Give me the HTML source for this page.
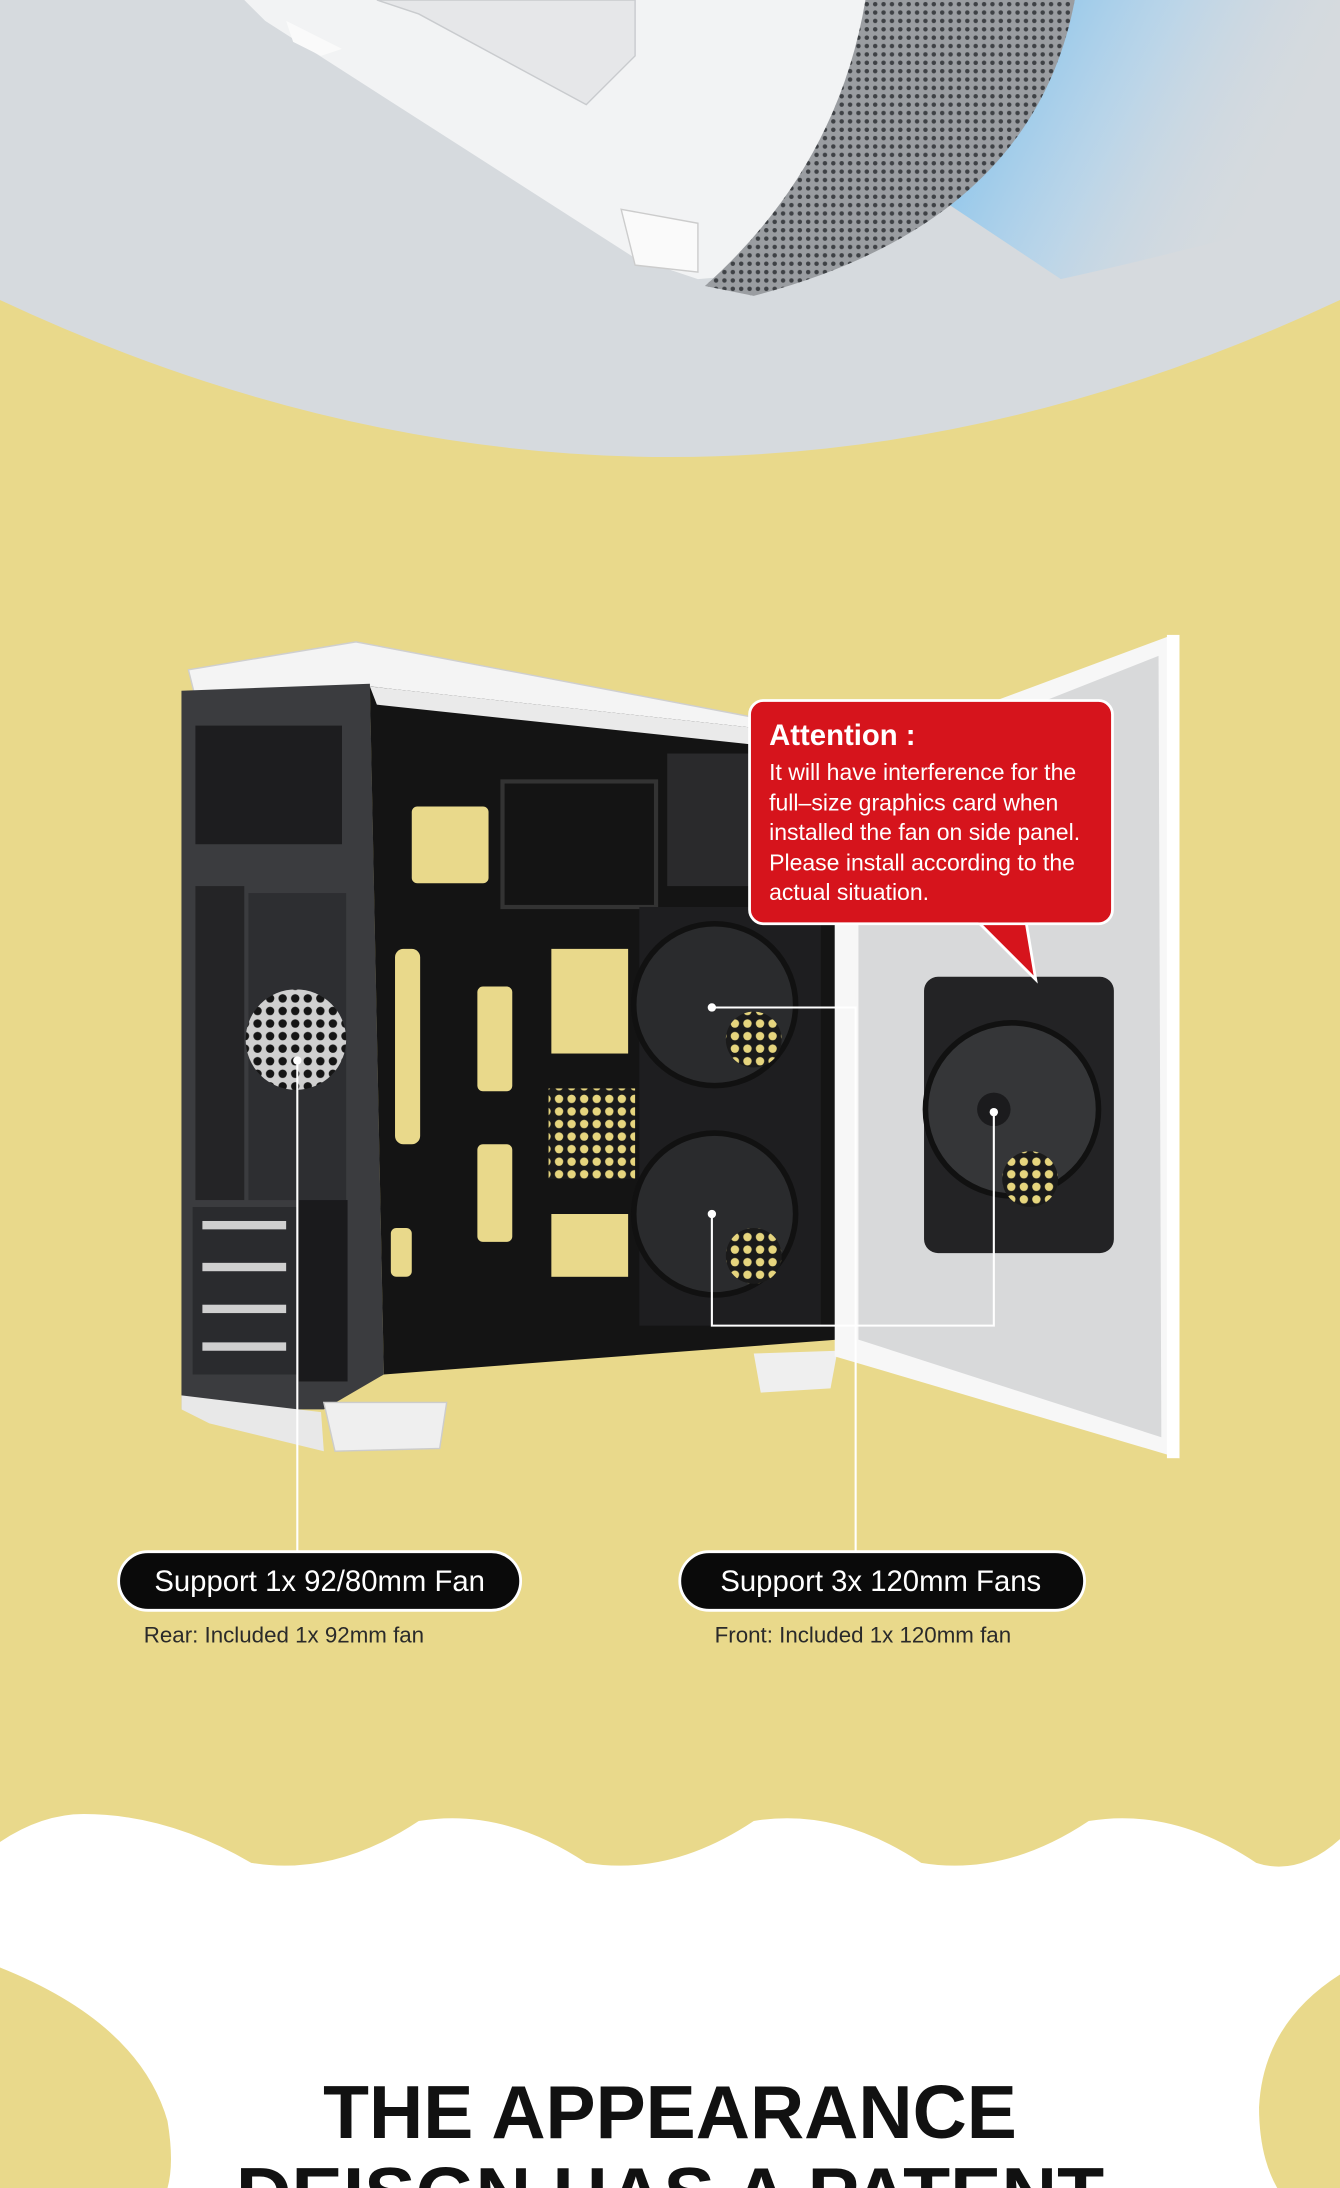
<!DOCTYPE html>
<html><head><meta charset="utf-8"><style>
html,body{margin:0;padding:0;background:#fff;}
svg{display:block;width:1340px;height:2188px;}
text{font-family:"Liberation Sans",sans-serif;}
</style></head><body>
<svg viewBox="0 0 960 1568" preserveAspectRatio="none" xmlns="http://www.w3.org/2000/svg">
<defs>
<linearGradient id="blue" x1="0" y1="0" x2="1" y2="0.3">
<stop offset="0" stop-color="#3aa8f0" stop-opacity="0.9"/><stop offset="0.6" stop-color="#9fd0f3" stop-opacity="0.5"/><stop offset="1" stop-color="#d6dade" stop-opacity="0"/></linearGradient>
<pattern id="mesh" width="6" height="6" patternUnits="userSpaceOnUse"><rect width="6" height="6" fill="#9a9da1"/><circle cx="3" cy="3" r="1.6" fill="#3e4145"/></pattern>
<pattern id="hex" width="9" height="9" patternUnits="userSpaceOnUse"><rect width="9" height="9" fill="#1a1a1a"/><circle cx="4.5" cy="4.5" r="3" fill="#e6d57e"/></pattern>
<pattern id="hexd" width="9" height="9" patternUnits="userSpaceOnUse"><rect width="9" height="9" fill="#cfcfcf"/><circle cx="4.5" cy="4.5" r="3" fill="#151515"/></pattern>
</defs>
<rect width="960" height="1568" fill="#e9d98b"/>
<path d="M0,0 H960 V215 Q480,440 0,215 Z" fill="#d6dade"/>
<!-- top case -->
<path d="M620,0 L960,0 L960,150 Q850,180 760,200 L640,120 Z" fill="url(#blue)"/>
<path d="M175,0 L630,0 L560,195 L500,200 L455,185 L190,15 Z" fill="#f2f3f4"/>
<path d="M270,0 L455,0 L455,40 L420,75 L300,10 Z" fill="#e6e7e9" stroke="#c9cbce"/>
<path d="M620,0 L770,0 Q740,160 540,212 L505,205 Q600,120 620,0 Z" fill="url(#mesh)"/>
<path d="M445,150 L500,160 L500,195 L455,190 Z" fill="#fafafa" stroke="#ccc"/>
<path d="M205,15 L245,35 L230,40 L210,30 Z" fill="#fafafa"/>
<!-- main case left frame -->
<path d="M135,480 L255,460 L545,515 L545,532 L265,492 L140,500 Z" fill="#f4f4f4" stroke="#cfcfcf"/>
<path d="M130,495 L265,490 L275,985 L232,1010 L130,1010 Z" fill="#3b3c3f"/>
<rect x="140" y="520" width="105" height="85" fill="#1d1d1f"/>
<rect x="140" y="635" width="35" height="225" fill="#242426"/>
<rect x="178" y="640" width="70" height="220" fill="#2d2e31"/>
<circle cx="212" cy="745" r="36" fill="url(#hexd)"/>
<rect x="138" y="865" width="75" height="120" fill="#2a2b2e"/>
<g fill="#cfcfcf"><rect x="145" y="875" width="60" height="6"/><rect x="145" y="905" width="60" height="6"/><rect x="145" y="935" width="60" height="6"/><rect x="145" y="962" width="60" height="6"/></g>
<rect x="214" y="860" width="35" height="130" fill="#1a1a1c"/>
<path d="M130,1000 L230,1012 L232,1040 L150,1020 L130,1010 Z" fill="#e8e8e8"/>
<path d="M232,1005 L320,1005 L315,1038 L240,1040 Z" fill="#efefef" stroke="#ccc"/>
<!-- interior -->
<path d="M265,492 L600,528 L600,960 L275,985 Z" fill="#141414"/>
<path d="M265,492 L600,528 L600,540 L270,505 Z" fill="#eaeaea"/>
<g fill="#e9d98b">
<rect x="295" y="578" width="55" height="55" rx="4"/>
<rect x="395" y="680" width="55" height="75"/>
<rect x="342" y="707" width="25" height="75" rx="4"/>
<rect x="342" y="820" width="25" height="70" rx="4"/>
<rect x="395" y="870" width="55" height="45"/>
<rect x="283" y="680" width="18" height="140" rx="6"/>
<rect x="280" y="880" width="15" height="35" rx="4"/>
</g>
<rect x="393" y="780" width="62" height="65" fill="url(#hex)"/>
<rect x="478" y="540" width="60" height="95" fill="#2a2a2c"/>
<rect x="360" y="560" width="110" height="90" fill="none" stroke="#333" stroke-width="3"/>
<rect x="458" y="650" width="130" height="300" fill="#1e1e20"/>
<circle cx="512" cy="720" r="58" fill="#2a2b2d" stroke="#111" stroke-width="4"/>
<circle cx="512" cy="870" r="58" fill="#2a2b2d" stroke="#111" stroke-width="4"/>
<circle cx="540" cy="745" r="20" fill="url(#hex)"/>
<circle cx="540" cy="900" r="20" fill="url(#hex)"/>
<path d="M540,970 L600,968 L595,995 L545,998 Z" fill="#efefef"/>
<!-- side panel -->
<path d="M598,545 L840,455 L845,1045 L598,972 Z" fill="#f7f7f7"/>
<path d="M615,555 L830,470 L832,1030 L615,960 Z" fill="#d8d9da"/>
<rect x="836" y="455" width="9" height="590" fill="#ffffff"/>
<rect x="662" y="700" width="136" height="198" rx="10" fill="#232325"/>
<circle cx="725" cy="795" r="62" fill="#353638" stroke="#111" stroke-width="4"/>
<circle cx="738" cy="845" r="20" fill="url(#hex)"/>
<circle cx="712" cy="795" r="12" fill="#1b1b1d"/>
<!-- callout -->
<path d="M700,660 L742,702 L735,660 Z" fill="#d6141c" stroke="#fff" stroke-width="2"/>
<rect x="537" y="502" width="260" height="160" rx="10" fill="#d6141c" stroke="#fff" stroke-width="2"/>
<rect x="701" y="655" width="33" height="6" fill="#d6141c"/>
<text x="551" y="534" fill="#fff" font-size="21" font-weight="bold">Attention :</text>
<g fill="#fff" font-size="16.5">
<text x="551" y="559">It will have interference for the</text>
<text x="551" y="581">full–size graphics card when</text>
<text x="551" y="602">installed the fan on side panel.</text>
<text x="551" y="624">Please install according to the</text>
<text x="551" y="645">actual situation.</text>
</g>
<!-- leader lines -->
<g stroke="#fff" stroke-width="1.5" fill="none">
<path d="M213,760 V1112"/>
<path d="M510,722 H613 V1112"/>
<path d="M510,870 V950 H712 V797"/>
</g>
<g fill="#fff"><circle cx="213" cy="760" r="3"/><circle cx="510" cy="722" r="3"/><circle cx="510" cy="870" r="3"/><circle cx="712" cy="797" r="3"/></g>
<!-- pills -->
<rect x="85" y="1112" width="288" height="42" rx="21" fill="#0a0a0a" stroke="#fff" stroke-width="2"/>
<text x="229" y="1140" text-anchor="middle" fill="#fff" font-size="21">Support 1x 92/80mm Fan</text>
<rect x="487" y="1112" width="290" height="42" rx="21" fill="#0a0a0a" stroke="#fff" stroke-width="2"/>
<text x="631" y="1140" text-anchor="middle" fill="#fff" font-size="21">Support 3x 120mm Fans</text>
<text x="103" y="1177" fill="#2a2a2a" font-size="16">Rear: Included 1x 92mm fan</text>
<text x="512" y="1177" fill="#2a2a2a" font-size="16">Front: Included 1x 120mm fan</text>
<!-- wave -->
<path d="M0,1320 Q30,1300 60,1300 Q120,1300 180,1335 Q240,1345 300,1305 Q360,1295 420,1335 Q480,1345 540,1305 Q600,1295 660,1335 Q720,1345 780,1305 Q840,1295 900,1335 Q930,1345 960,1318 V1568 H0 Z" fill="#ffffff"/>
<path d="M0,1410 Q100,1450 120,1520 Q125,1550 120,1568 H0 Z" fill="#e9d98b"/>
<path d="M960,1415 Q905,1450 902,1510 Q902,1545 915,1568 H960 Z" fill="#e9d98b"/>
<text x="480" y="1532" text-anchor="middle" fill="#111" font-size="54" font-weight="bold" textLength="497" lengthAdjust="spacingAndGlyphs">THE APPEARANCE</text>
<text x="480" y="1591" text-anchor="middle" fill="#111" font-size="54" font-weight="bold" textLength="622" lengthAdjust="spacingAndGlyphs">DEISGN HAS A PATENT</text>
</svg>
</body></html>
